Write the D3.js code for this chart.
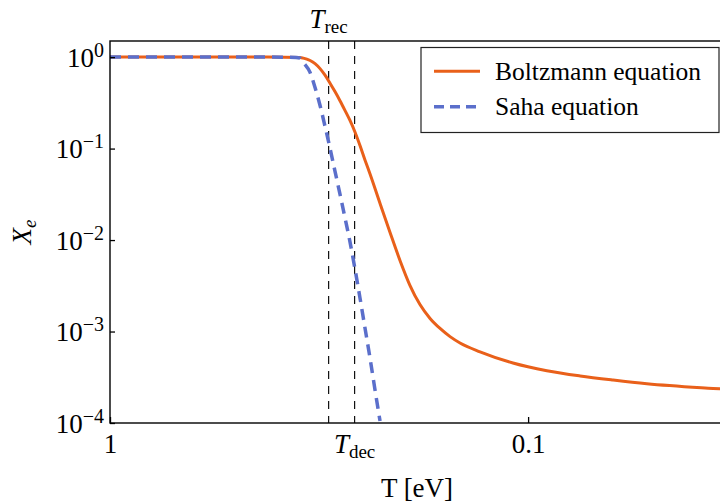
<!DOCTYPE html>
<html>
<head>
<meta charset="utf-8">
<script src="https://cdn.jsdelivr.net/npm/d3@7/dist/d3.min.js"></script>
<style>
  html, body { margin: 0; padding: 0; background: #fff; }
  svg { display: block; font-family: "Liberation Serif", "DejaVu Serif", serif; }
</style>
</head>
<body>
<svg id="chart" width="720" height="502"></svg>
<script>
// Ionization fraction X_e versus temperature T (eV)
const boltzmannT  = [1.0, 0.6, 0.42, 0.3512, 0.3450, 0.3383, 0.3322, 0.3233, 0.3145, 0.3060, 0.2977, 0.2897, 0.2818, 0.2742, 0.2667, 0.2595, 0.2524, 0.2456, 0.2388, 0.2260, 0.2139, 0.2024, 0.1916, 0.1814, 0.1716, 0.1624, 0.1537, 0.1455, 0.1303, 0.1087, 0.0902, 0.0751, 0.0626, 0.0520, 0.0361, 0.0340];
const boltzmannXe = [1.0, 1.0, 1.0, 0.990, 0.975, 0.950, 0.918, 0.848, 0.748, 0.634, 0.519, 0.420, 0.334, 0.262, 0.203, 0.152, 0.108, 0.0752, 0.0527, 0.0251, 0.0121, 0.00595, 0.00318, 0.00197, 0.00139, 0.00108, 0.00088, 0.00075, 0.00060, 0.000453, 0.000373, 0.000327, 0.000295, 0.000269, 0.000239, 0.000235];

const sahaT  = [1.0, 0.6, 0.42, 0.3590, 0.3512, 0.3450, 0.3323, 0.3233, 0.3145, 0.3060, 0.2977, 0.2897, 0.2818, 0.2742, 0.2667, 0.2595, 0.2524, 0.2456, 0.2388, 0.2323, 0.2260];
const sahaXe = [1.0, 1.0, 1.0, 0.990, 0.975, 0.875, 0.680, 0.465, 0.296, 0.175, 0.101, 0.0566, 0.0318, 0.0176, 0.00955, 0.00485, 0.00233, 0.00110, 0.000510, 0.000228, 0.000105];

const xTicks = [1, 0.1];
const xTickLabels = ["1", "0.1"];
const yTicks = [1, 1e-1, 1e-2, 1e-3, 1e-4];
const yTickExponents = ["0", "\u22121", "\u22122", "\u22123", "\u22124"];

const tRec = 0.30;
const tDec = 0.26;

const seriesNames = ["Boltzmann equation", "Saha equation"];
const colors = ["#e9601a", "#5b6fcb"];

const svg = d3.select("#chart");
const m = { left: 110, top: 41, right: 724, bottom: 423 };

const x = d3.scaleLog().domain([1, 0.034]).range([m.left, m.right]);
const y = d3.scaleLog().domain([1e-4, 1.5]).range([m.bottom, m.top]);

svg.append("defs").append("clipPath").attr("id", "plotClip")
  .append("rect")
  .attr("x", m.left).attr("y", m.top)
  .attr("width", m.right - m.left).attr("height", m.bottom - m.top);

// vertical markers for recombination and decoupling temperatures
[tRec, tDec].forEach(t => {
  svg.append("line")
    .attr("x1", x(t)).attr("x2", x(t))
    .attr("y1", m.top).attr("y2", m.bottom)
    .attr("stroke", "#111").attr("stroke-width", 1.2)
    .attr("stroke-dasharray", "8,7");
});

const line = d3.line()
  .x(d => x(d[0]))
  .y(d => y(d[1]))
  .curve(d3.curveMonotoneX);

const plot = svg.append("g").attr("clip-path", "url(#plotClip)");

plot.append("path")
  .datum(boltzmannT.map((t, i) => [t, boltzmannXe[i]]))
  .attr("d", line)
  .attr("fill", "none")
  .attr("stroke", colors[0])
  .attr("stroke-width", 3);

plot.append("path")
  .datum(sahaT.map((t, i) => [t, sahaXe[i]]))
  .attr("d", line)
  .attr("fill", "none")
  .attr("stroke", colors[1])
  .attr("stroke-width", 3.5)
  .attr("stroke-dasharray", "11,7");

// frame
svg.append("rect")
  .attr("x", m.left).attr("y", m.top)
  .attr("width", m.right - m.left).attr("height", m.bottom - m.top)
  .attr("fill", "none").attr("stroke", "#000").attr("stroke-width", 1.4);

// y axis (log, ticks pointing inward)
const yAxis = svg.append("g")
  .attr("transform", `translate(${m.left},0)`)
  .call(d3.axisLeft(y).tickValues(yTicks).tickSize(-5).tickPadding(6).tickFormat(() => ""));
yAxis.select(".domain").remove();
yAxis.selectAll(".tick line").attr("stroke", "#000").attr("stroke-width", 1.3);
yAxis.selectAll(".tick text").each(function (d, i) {
  const t = d3.select(this)
    .attr("font-family", "Liberation Serif, serif")
    .attr("font-size", 27)
    .attr("fill", "#000")
    .attr("dy", "0.34em");
  t.append("tspan").text("10");
  t.append("tspan").attr("font-size", 20).attr("dy", "-0.5em").text(yTickExponents[i]);
});

// x axis (log, reversed)
const xAxis = svg.append("g")
  .attr("transform", `translate(0,${m.bottom})`)
  .call(d3.axisBottom(x).tickValues(xTicks).tickSize(-6).tickPadding(11)
    .tickFormat((d, i) => xTickLabels[i]));
xAxis.select(".domain").remove();
xAxis.selectAll(".tick line").attr("stroke", "#000").attr("stroke-width", 1.3);
xAxis.selectAll(".tick text")
  .attr("font-family", "Liberation Serif, serif")
  .attr("font-size", 27)
  .attr("fill", "#000");

// temperature marker labels
function markerLabel(t, baseline, sub) {
  const txt = svg.append("text")
    .attr("x", x(t)).attr("y", baseline)
    .attr("text-anchor", "middle")
    .attr("font-size", 27).attr("fill", "#000");
  txt.append("tspan").attr("font-style", "italic").text("T");
  txt.append("tspan").attr("font-size", 19).attr("dy", 5).text(sub);
}
markerLabel(tRec, 28, "rec");
markerLabel(tDec, 453, "dec");

// axis titles
svg.append("text")
  .attr("x", (m.left + m.right) / 2).attr("y", 497)
  .attr("text-anchor", "middle")
  .attr("font-size", 27).attr("fill", "#000")
  .text("T [eV]");

const yTitle = svg.append("text")
  .attr("transform", `translate(31,${(m.top + m.bottom) / 2}) rotate(-90)`)
  .attr("text-anchor", "middle")
  .attr("font-size", 27).attr("fill", "#000");
yTitle.append("tspan").attr("font-style", "italic").text("X");
yTitle.append("tspan").attr("font-style", "italic").attr("font-size", 19).attr("dy", 5).text("e");

// legend
const legend = svg.append("g");
legend.append("rect")
  .attr("x", 421).attr("y", 47.5).attr("width", 298).attr("height", 85)
  .attr("fill", "#fff").attr("stroke", "#222").attr("stroke-width", 1.2);
const legendRows = [71.3, 106.7];
seriesNames.forEach((name, i) => {
  legend.append("line")
    .attr("x1", 434).attr("x2", 480)
    .attr("y1", legendRows[i]).attr("y2", legendRows[i])
    .attr("stroke", colors[i])
    .attr("stroke-width", i === 0 ? 3 : 3.5)
    .attr("stroke-dasharray", i === 0 ? null : "10,6");
  legend.append("text")
    .attr("x", 495).attr("y", legendRows[i] + 8.5)
    .attr("font-size", 25.5).attr("fill", "#000")
    .text(name);
});
</script>
</body>
</html>
